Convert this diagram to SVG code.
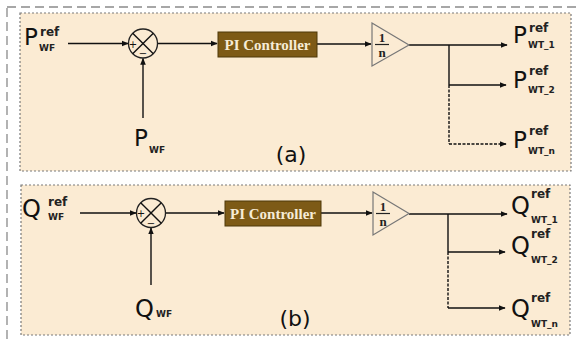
<svg xmlns="http://www.w3.org/2000/svg" width="576" height="340" viewBox="0 0 576 340">
<defs>
<marker id="ah" viewBox="0 0 10 10" refX="9" refY="5" markerWidth="7" markerHeight="7" markerUnits="userSpaceOnUse" orient="auto">
<path d="M0,1 L10,5 L0,9 Z" fill="#111"/>
</marker>
<style>
.panel{fill:#fbebd3;stroke:#7a7a7a;stroke-width:1.2;stroke-dasharray:2,2}
.outer{fill:none;stroke:#8a8a8a;stroke-width:1.3;stroke-dasharray:9,5}
.ln{fill:none;stroke:#111;stroke-width:1.4}
.arr{fill:none;stroke:#111;stroke-width:1.4;marker-end:url(#ah)}
.dash{stroke-dasharray:3,1.5}
.sum{fill:#fbebd3;stroke:#222;stroke-width:1.3}
.pi{fill:#7d5a16;stroke:#4e3808;stroke-width:1}
.pit{font-family:"Liberation Serif",serif;font-weight:bold;font-size:15px;fill:#f6ecd6}
.tri{fill:#fbebd3;stroke:#777;stroke-width:1.2}
.frac{font-family:"Liberation Serif",serif;font-weight:bold;font-size:13px;fill:#222}
.big{font-family:"DejaVu Sans",sans-serif;font-size:23px;fill:#111}
.bigq{font-family:"DejaVu Sans",sans-serif;font-size:24px;fill:#111}
.sup{font-family:"DejaVu Sans",sans-serif;font-size:12px;font-weight:bold;fill:#222}
.sub{font-family:"DejaVu Sans",sans-serif;font-size:9px;font-weight:bold;fill:#222}
.cap{font-family:"DejaVu Sans",sans-serif;font-size:22px;fill:#111}
.pm{font-family:"DejaVu Sans",sans-serif;font-size:10px;fill:#111}
</style>
</defs>
<rect class="outer" x="7" y="7" width="620" height="400"/>
<g id="panel-a">
<rect class="panel" x="20" y="13" width="551" height="158"/>
</g>
<g id="panel-b">
<rect class="panel" x="21" y="185" width="549" height="150"/>
</g>

<g id="connectors">
<line class="arr" x1="68" y1="43.5" x2="128" y2="43.5"/>
<line class="arr" x1="143" y1="118" x2="143" y2="58.5"/>
<line class="arr" x1="157.5" y1="43.5" x2="217" y2="43.5"/>
<line class="arr" x1="317" y1="44" x2="371" y2="44"/>
<line class="arr" x1="409" y1="45" x2="507" y2="45"/>
<line class="ln" x1="449" y1="45" x2="449" y2="85"/>
<line class="ln dash" x1="449" y1="85" x2="449" y2="144"/>
<line class="arr" x1="449" y1="85" x2="506" y2="85"/>
<line class="arr dash" x1="449" y1="144" x2="506" y2="144"/>
<line class="arr" x1="80" y1="213" x2="136" y2="213"/>
<line class="arr" x1="151" y1="285" x2="151" y2="228"/>
<line class="arr" x1="165.5" y1="213" x2="224" y2="213"/>
<line class="arr" x1="321" y1="213" x2="372" y2="213"/>
<line class="arr" x1="409" y1="214" x2="507" y2="214"/>
<line class="ln" x1="448" y1="214" x2="448" y2="252"/>
<line class="ln dash" x1="448" y1="252" x2="448" y2="308"/>
<line class="arr" x1="448" y1="252" x2="505" y2="252"/>
<line class="arr" x1="448" y1="308" x2="505" y2="308"/>
</g>

<g id="sum-a">
<circle class="sum" cx="143" cy="43.5" r="14.5"/>
<line class="ln" x1="132.7" y1="33.2" x2="153.3" y2="53.8" stroke-width="1.1"/>
<line class="ln" x1="153.3" y1="33.2" x2="132.7" y2="53.8" stroke-width="1.1"/>
<text class="pm" x="133" y="47.5" text-anchor="middle">+</text>
<text class="pm" x="143" y="57" text-anchor="middle">−</text>
</g>
<g id="pi-a">
<rect class="pi" x="218" y="32" width="99" height="25"/>
<text class="pit" x="267.5" y="49.5" text-anchor="middle">PI Controller</text>
</g>
<g id="gain-a">
<polygon class="tri" points="372,23 409,45 372,66"/>
<text class="frac" x="382" y="41.5" text-anchor="middle">1</text>
<line x1="375" y1="44.5" x2="389" y2="44.5" stroke="#222" stroke-width="1.2"/>
<text class="frac" x="382" y="56.5" text-anchor="middle">n</text>
</g>
<g id="label-pwfref">
<text class="big" x="24" y="45">P</text>
<text class="sup" x="40" y="36">ref</text>
<text class="sub" x="39" y="51">WF</text>
</g>
<g id="label-pwf">
<text class="big" x="134" y="146">P</text>
<text class="sub" x="149" y="153">WF</text>
</g>
<g id="label-pwt1">
<text class="big" x="513" y="43">P</text>
<text class="sup" x="529" y="32">ref</text>
<text class="sub" x="528" y="48">WT_1</text>
</g>
<g id="label-pwt2">
<text class="big" x="513" y="88">P</text>
<text class="sup" x="529" y="75">ref</text>
<text class="sub" x="528" y="93">WT_2</text>
</g>
<g id="label-pwtn">
<text class="big" x="513" y="148">P</text>
<text class="sup" x="529" y="135">ref</text>
<text class="sub" x="528" y="154">WT_n</text>
</g>
<g id="caption-a">
<text class="cap" x="291" y="162" text-anchor="middle">(a)</text>
</g>

<g id="sum-b">
<circle class="sum" cx="151" cy="213" r="14.5"/>
<line class="ln" x1="140.7" y1="202.7" x2="161.3" y2="223.3" stroke-width="1.1"/>
<line class="ln" x1="161.3" y1="202.7" x2="140.7" y2="223.3" stroke-width="1.1"/>
<text class="pm" x="141" y="217" text-anchor="middle">+</text>
<text class="pm" x="151" y="226.5" text-anchor="middle">−</text>
</g>
<g id="pi-b">
<rect class="pi" x="225" y="201" width="96" height="25"/>
<text class="pit" x="273" y="218.5" text-anchor="middle">PI Controller</text>
</g>
<g id="gain-b">
<polygon class="tri" points="373,192 409,213.5 373,235"/>
<text class="frac" x="383" y="210.5" text-anchor="middle">1</text>
<line x1="376" y1="213.5" x2="390" y2="213.5" stroke="#222" stroke-width="1.2"/>
<text class="frac" x="383" y="225.5" text-anchor="middle">n</text>
</g>
<g id="label-qwfref">
<text class="bigq" x="22" y="217">Q</text>
<text class="sup" x="48" y="206">ref</text>
<text class="sub" x="48" y="220">WF</text>
</g>
<g id="label-qwf">
<text class="bigq" x="135" y="317">Q</text>
<text class="sub" x="156" y="317">WF</text>
</g>
<g id="label-qwt1">
<text class="bigq" x="511" y="214">Q</text>
<text class="sup" x="531" y="198">ref</text>
<text class="sub" x="531" y="223">WT_1</text>
</g>
<g id="label-qwt2">
<text class="bigq" x="511" y="254">Q</text>
<text class="sup" x="531" y="238">ref</text>
<text class="sub" x="531" y="263">WT_2</text>
</g>
<g id="label-qwtn">
<text class="bigq" x="511" y="317">Q</text>
<text class="sup" x="531" y="302">ref</text>
<text class="sub" x="531" y="327">WT_n</text>
</g>
<g id="caption-b">
<text class="cap" x="295" y="326" text-anchor="middle">(b)</text>
</g>
</svg>
